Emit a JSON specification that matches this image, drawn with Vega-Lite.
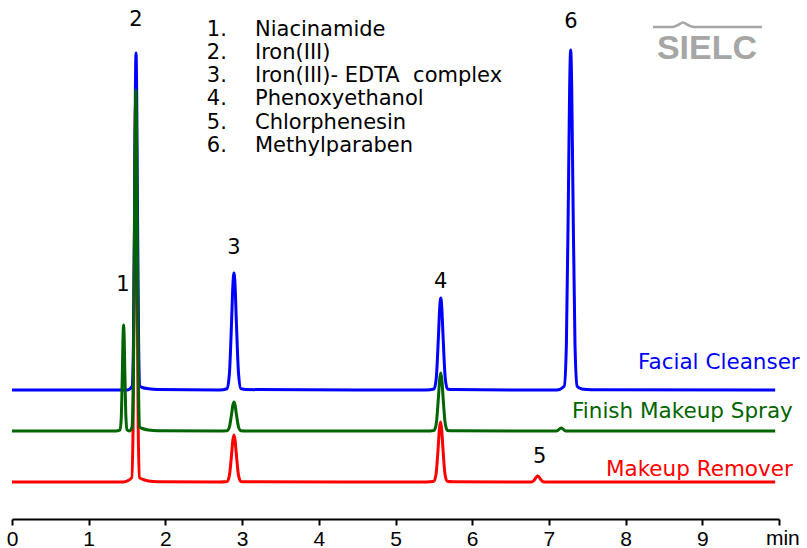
{
  "$schema": "https://vega.github.io/schema/vega-lite/v6.json",
  "width": 767,
  "height": 519,
  "autosize": {"type": "none"},
  "padding": {"left": 12, "top": 0, "right": 28, "bottom": 29},
  "background": "white",
  "config": {"view": {"stroke": null}, "font": "DejaVu Sans"},
  "datasets": {
    "red": [
      {"t":0,"v":37},{"t":1.45,"v":37},{"t":1.561,"v":41.2},{"t":1.578,"v":88.4},{"t":1.595,"v":267.5},{"t":1.6035,"v":372.4},{"t":1.612,"v":417},{"t":1.6205,"v":372.4},{"t":1.629,"v":267.5},{"t":1.646,"v":88.4},{"t":1.663,"v":41.2},{"t":1.7,"v":39.8},{"t":1.78,"v":38},{"t":1.9,"v":37.3},{"t":2.7,"v":37},{"t":2.804,"v":37.5},{"t":2.834,"v":43.4},{"t":2.864,"v":65.5},{"t":2.879,"v":78.5},{"t":2.894,"v":84},{"t":2.909,"v":78.5},{"t":2.924,"v":65.5},{"t":2.954,"v":43.4},{"t":2.984,"v":37.5},{"t":3.05,"v":37.2},{"t":5.4,"v":37},{"t":5.5,"v":37.7},{"t":5.529,"v":45.1},{"t":5.558,"v":73.4},{"t":5.5725,"v":90},{"t":5.587,"v":97},{"t":5.6015,"v":90},{"t":5.616,"v":73.4},{"t":5.645,"v":45.1},{"t":5.674,"v":37.7},{"t":5.74,"v":37.2},{"t":6.7,"v":37},{"t":6.764,"v":37},{"t":6.794,"v":37.8},{"t":6.824,"v":40.6},{"t":6.854,"v":43},{"t":6.884,"v":40.6},{"t":6.914,"v":37.8},{"t":6.944,"v":37},{"t":9.95,"v":37}
    ],
    "blue": [
      {"t":0,"v":129},{"t":1.5,"v":129},{"t":1.566,"v":132.7},{"t":1.583,"v":174.6},{"t":1.6,"v":333.4},{"t":1.6085,"v":426.4},{"t":1.617,"v":466},{"t":1.6255,"v":426.4},{"t":1.634,"v":333.4},{"t":1.651,"v":174.6},{"t":1.668,"v":132.7},{"t":1.7,"v":131.5},{"t":1.78,"v":130.2},{"t":1.9,"v":129.4},{"t":2.7,"v":129},{"t":2.804,"v":130.3},{"t":2.834,"v":144.8},{"t":2.864,"v":200},{"t":2.879,"v":232.3},{"t":2.894,"v":246},{"t":2.909,"v":232.3},{"t":2.924,"v":200},{"t":2.954,"v":144.8},{"t":2.984,"v":130.3},{"t":3.05,"v":129.4},{"t":5.4,"v":129},{"t":5.503,"v":130},{"t":5.532,"v":141.4},{"t":5.561,"v":184.8},{"t":5.5755,"v":210.2},{"t":5.59,"v":221},{"t":5.6045,"v":210.2},{"t":5.619,"v":184.8},{"t":5.648,"v":141.4},{"t":5.677,"v":130},{"t":5.74,"v":129.4},{"t":7.1,"v":129},{"t":7.2,"v":132.8},{"t":7.228,"v":175},{"t":7.256,"v":335.2},{"t":7.27,"v":429},{"t":7.284,"v":469},{"t":7.298,"v":429},{"t":7.312,"v":335.2},{"t":7.34,"v":175},{"t":7.368,"v":132.8},{"t":7.43,"v":130},{"t":7.55,"v":129.3},{"t":9.95,"v":129}
    ],
    "green": [
      {"t":0,"v":88},{"t":1.35,"v":88},{"t":1.41,"v":89.2},{"t":1.425,"v":102.3},{"t":1.44,"v":152.3},{"t":1.4475,"v":181.5},{"t":1.455,"v":194},{"t":1.4625,"v":181.5},{"t":1.47,"v":152.3},{"t":1.485,"v":102.3},{"t":1.5,"v":89.2},{"t":1.53,"v":88},{"t":1.564,"v":91.8},{"t":1.581,"v":134.1},{"t":1.598,"v":294.8},{"t":1.6065,"v":388.9},{"t":1.615,"v":429},{"t":1.6235,"v":388.9},{"t":1.632,"v":294.8},{"t":1.649,"v":134.1},{"t":1.666,"v":91.8},{"t":1.7,"v":90.5},{"t":1.78,"v":89},{"t":1.9,"v":88.3},{"t":2.7,"v":88},{"t":2.804,"v":88.3},{"t":2.834,"v":91.9},{"t":2.864,"v":105.6},{"t":2.879,"v":113.6},{"t":2.894,"v":117},{"t":2.909,"v":113.6},{"t":2.924,"v":105.6},{"t":2.954,"v":91.9},{"t":2.984,"v":88.3},{"t":3.05,"v":88},{"t":5.4,"v":88},{"t":5.503,"v":88.6},{"t":5.532,"v":95.8},{"t":5.561,"v":123.2},{"t":5.5755,"v":139.2},{"t":5.59,"v":146},{"t":5.6045,"v":139.2},{"t":5.619,"v":123.2},{"t":5.648,"v":95.8},{"t":5.677,"v":88.6},{"t":5.74,"v":88.2},{"t":7.1,"v":88},{"t":7.16,"v":91},{"t":7.22,"v":88},{"t":9.95,"v":88}
    ],
    "peaks": [
      {"t":1.617,"v":499,"label":"2"},
      {"t":1.447,"v":234,"label":"1"},
      {"t":2.894,"v":271,"label":"3"},
      {"t":5.59,"v":237,"label":"4"},
      {"t":6.88,"v":62,"label":"5"},
      {"t":7.288,"v":497,"label":"6"}
    ],
    "legend": [
      {"t":2.54,"tn":3.168,"v":483.5,
       "num":["1.","2.","3.","4.","5.","6."],
       "name":["Niacinamide","Iron(III)","Iron(III)- EDTA\u00a0 complex","Phenoxyethanol","Chlorphenesin","Methylparaben"]}
    ],
    "series": [
      {"t":10.27,"v":156,"name":"Facial Cleanser","c":"blue"},
      {"t":10.18,"v":107,"name":"Finish Makeup Spray","c":"green"},
      {"t":10.18,"v":49,"name":"Makeup Remover","c":"red"}
    ],
    "logoline": [
      {"t":8.357,"v":492},{"t":8.605,"v":492},{"t":8.683,"v":494},{"t":8.748,"v":496.5},{"t":8.814,"v":494},{"t":8.892,"v":492},{"t":9.778,"v":492}
    ],
    "logo": [{"t":9.061,"v":470,"text":"SIELC"}],
    "unit": [{"t":10.05,"v":-20,"text":"min"}]
  },
  "layer": [
    {
      "data": {"name": "red"},
      "mark": {"type": "line", "color": "#ff0000", "strokeWidth": 3, "interpolate": "monotone"},
      "encoding": {
        "x": {"field": "t", "type": "quantitative", "scale": {"domain": [0, 10], "nice": false, "zero": false},
          "axis": {"values": [0,1,2,3,4,5,6,7,8,9,10], "format": "d", "grid": false, "title": null, "domainColor": "#000000", "domainWidth": 2, "tickColor": "#000000", "tickWidth": 2, "tickSize": 6, "labelFontSize": 21, "labelColor": "#000000", "labelFont": "Liberation Sans", "labelPadding": 3, "labelExpr": "datum.value == 10 ? '' : datum.label", "labelFlush": false, "labelOverlap": false}},
        "y": {"field": "v", "type": "quantitative", "scale": {"domain": [0, 519], "nice": false, "zero": false}, "axis": null}
      }
    },
    {
      "data": {"name": "blue"},
      "mark": {"type": "line", "color": "#0000ff", "strokeWidth": 3, "interpolate": "monotone"},
      "encoding": {"x": {"field": "t", "type": "quantitative"}, "y": {"field": "v", "type": "quantitative"}}
    },
    {
      "data": {"name": "green"},
      "mark": {"type": "line", "color": "#006400", "strokeWidth": 3, "interpolate": "monotone"},
      "encoding": {"x": {"field": "t", "type": "quantitative"}, "y": {"field": "v", "type": "quantitative"}}
    },
    {
      "data": {"name": "peaks"},
      "mark": {"type": "text", "fontSize": 21, "color": "#000000", "align": "center", "baseline": "middle"},
      "encoding": {"x": {"field": "t", "type": "quantitative"}, "y": {"field": "v", "type": "quantitative"}, "text": {"field": "label"}}
    },
    {
      "data": {"name": "legend"},
      "mark": {"type": "text", "fontSize": 21, "lineHeight": 23.3, "color": "#000000", "align": "left", "baseline": "alphabetic"},
      "encoding": {"x": {"field": "t", "type": "quantitative"}, "y": {"field": "v", "type": "quantitative"}, "text": {"field": "num"}}
    },
    {
      "data": {"name": "legend"},
      "mark": {"type": "text", "fontSize": 21, "lineHeight": 23.3, "color": "#000000", "align": "left", "baseline": "alphabetic"},
      "encoding": {"x": {"field": "tn", "type": "quantitative"}, "y": {"field": "v", "type": "quantitative"}, "text": {"field": "name"}}
    },
    {
      "data": {"name": "series"},
      "mark": {"type": "text", "fontSize": 21.5, "align": "right", "baseline": "middle"},
      "encoding": {
        "x": {"field": "t", "type": "quantitative"}, "y": {"field": "v", "type": "quantitative"}, "text": {"field": "name"},
        "color": {"field": "c", "type": "nominal", "scale": {"domain": ["blue", "green", "red"], "range": ["#0000ff", "#006400", "#ff0000"]}, "legend": null}
      }
    },
    {
      "data": {"name": "logoline"},
      "mark": {"type": "line", "color": "#a6a6a6", "strokeWidth": 2.5, "interpolate": "monotone"},
      "encoding": {"x": {"field": "t", "type": "quantitative"}, "y": {"field": "v", "type": "quantitative"}}
    },
    {
      "data": {"name": "logo"},
      "mark": {"type": "text", "font": "Liberation Sans", "fontSize": 34, "fontWeight": "bold", "color": "#a6a6a6", "align": "center", "baseline": "middle"},
      "encoding": {"x": {"field": "t", "type": "quantitative"}, "y": {"field": "v", "type": "quantitative"}, "text": {"field": "text"}}
    },
    {
      "data": {"name": "unit"},
      "mark": {"type": "text", "font": "Liberation Sans", "fontSize": 21, "color": "#000000", "align": "center", "baseline": "middle"},
      "encoding": {"x": {"field": "t", "type": "quantitative"}, "y": {"field": "v", "type": "quantitative"}, "text": {"field": "text"}}
    }
  ]
}
